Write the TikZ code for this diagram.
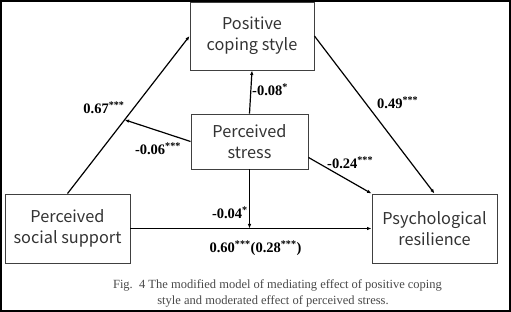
\documentclass[tikz,border=0pt]{standalone}
\usepackage{fontspec}
\setmainfont{Liberation Serif}
\newfontfamily\boxfont{Noto Sans CJK SC}
\usetikzlibrary{arrows.meta,calc}
\definecolor{boxline}{HTML}{404040}
\definecolor{captxt}{HTML}{484848}
\tikzset{
  varbox/.style={draw=boxline,line width=0.9pt,align=center,inner sep=0pt,
    font=\boxfont\fontsize{16.3}{21}\selectfont,text=black!80},
  arr/.style={line width=1.2pt,-{Latex[length=4.5pt,width=3.5pt]}},
  coef/.style={font=\bfseries\fontsize{14.5}{16}\selectfont,inner sep=0pt},
  captext/.style={font=\fontsize{12.5}{14}\selectfont,text=captxt,inner sep=0pt}
}
\begin{document}
\begin{tikzpicture}[x=1pt,y=-1pt]
\useasboundingbox (0,0) rectangle (511,312);
\draw[line width=1.6pt] (0.8,0.8) rectangle (510.2,311.2);
\node[varbox,minimum width=124pt,minimum height=68pt] (pcs) at (252,36) {Positive\\coping style};
\node[varbox,minimum width=117pt,minimum height=55pt] (ps) at (249.5,141.5) {Perceived\\stress};
\node[varbox,minimum width=125pt,minimum height=69pt] (pss) at (67.5,228.5) {Perceived\\social support};
\node[varbox,minimum width=125pt,minimum height=69pt] (pr) at (434.5,228.5) {Psychological\\resilience};
\coordinate (m1) at ($(pss.north)!0.468!(pcs.west)$);
\coordinate (m2) at (pss.east -| ps.south);
\draw[arr] (pss.north) -- (pcs.west);
\draw[arr] (ps.west) -- (m1);
\draw[arr] (ps.north) -- (pcs.south);
\draw[arr] (pcs.east) -- (pr.north);
\draw[arr] ([yshift=12pt]ps.south east) -- (pr.north west);
\draw[arr] (ps.south) -- (m2);
\draw[arr] (pss.east) -- (pr.west);
\node[coef] (c1) at (104,108) {0.67\textsuperscript{***}};
\node[coef] (c2) at (158,149) {-0.06\textsuperscript{***}};
\node[coef,anchor=west] (c3) at (252,90) {-0.08\textsuperscript{*}};
\node[coef,anchor=west] (c4) at (377,103) {0.49\textsuperscript{***}};
\node[coef,anchor=west] (c5) at (327,163) {-0.24\textsuperscript{***}};
\node[coef,anchor=east] (c6) at (248,213) {-0.04\textsuperscript{*}};
\node[coef] (c7) at (255.5,248) {0.60\textsuperscript{***}(0.28\textsuperscript{***})};
\node[captext] (cap1) at (277.5,285) {Fig.\ \ 4 The modified model of mediating effect of positive coping};
\node[captext] (cap2) at (273,301) {style and moderated effect of perceived stress.};
\end{tikzpicture}
\end{document}
